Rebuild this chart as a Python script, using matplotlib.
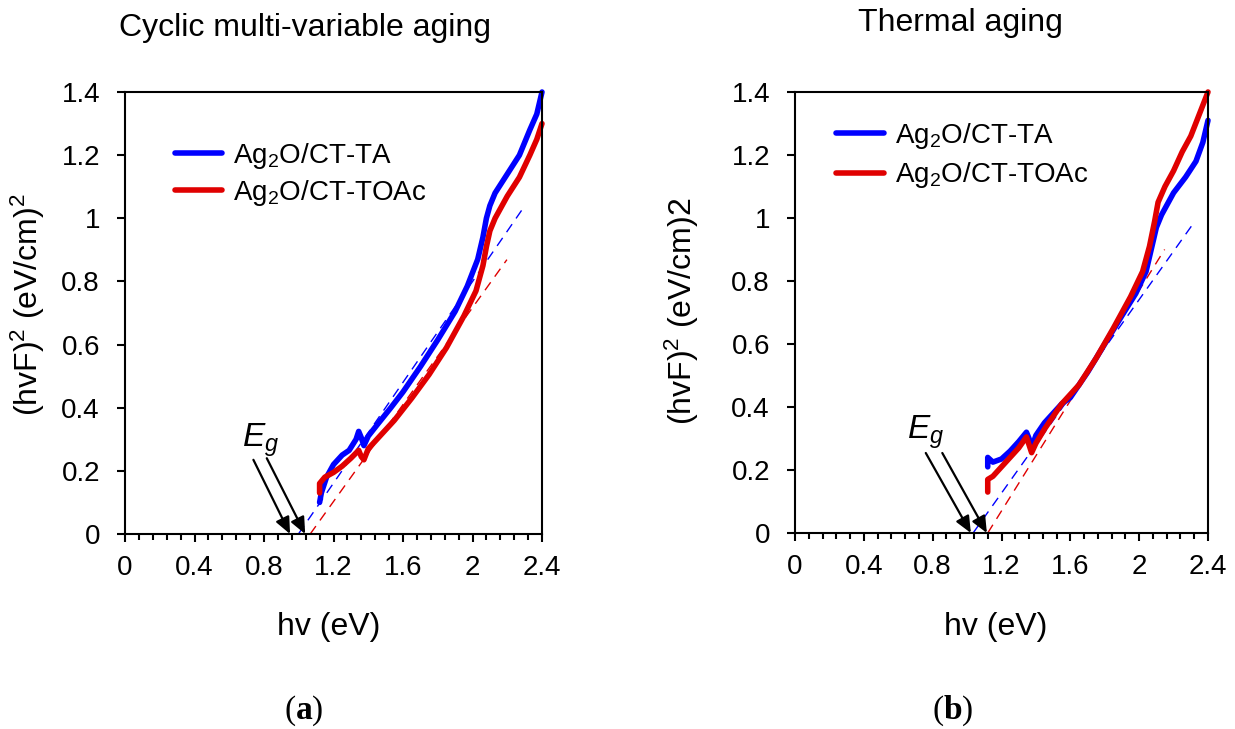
import numpy as np
import matplotlib
matplotlib.use("Agg")
import matplotlib.pyplot as plt
from matplotlib.ticker import MultipleLocator

plt.rcParams['font.family'] = ['Liberation Sans', 'DejaVu Sans']
plt.rcParams['mathtext.fontset'] = 'custom'
plt.rcParams['mathtext.rm'] = 'Liberation Sans'
plt.rcParams['mathtext.it'] = 'Liberation Sans:italic'
plt.rcParams['mathtext.bf'] = 'Liberation Serif:bold'

# ---- data --------------------------------------------------------
# (a) cyclic multi-variable aging
a_ta_x = [1.12, 1.13, 1.16, 1.20, 1.25, 1.29, 1.33, 1.345, 1.36, 1.375, 1.40, 1.45,
          1.53, 1.60, 1.70, 1.80, 1.90, 1.97, 2.03, 2.06, 2.08, 2.10, 2.13, 2.20,
          2.27, 2.33, 2.37, 2.40]
a_ta_y = [0.10, 0.13, 0.18, 0.22, 0.25, 0.265, 0.30, 0.325, 0.305, 0.28, 0.31, 0.345,
          0.40, 0.45, 0.53, 0.615, 0.705, 0.785, 0.87, 0.94, 1.00, 1.04, 1.08, 1.14,
          1.20, 1.28, 1.33, 1.40]
a_toac_x = [1.12, 1.12, 1.15, 1.20, 1.25, 1.30, 1.345, 1.36, 1.375, 1.40, 1.45, 1.55,
            1.65, 1.75, 1.85, 1.95, 2.02, 2.06, 2.08, 2.10, 2.13, 2.20, 2.27, 2.33,
            2.37, 2.40]
a_toac_y = [0.13, 0.16, 0.18, 0.195, 0.215, 0.24, 0.265, 0.245, 0.235, 0.27, 0.30, 0.36,
            0.43, 0.505, 0.59, 0.69, 0.77, 0.85, 0.91, 0.96, 1.00, 1.07, 1.13, 1.20,
            1.25, 1.30]
a_fit_ta = ([0.998, 2.285], [0.0, 1.027])
a_fit_toac = ([1.066, 2.198], [0.0, 0.869])
a_arrow_tails = [(0.739, 0.235), (0.816, 0.240)]
a_arrow_heads = [(0.95, 0.0), (1.037, 0.0)]

# (b) thermal aging
b_ta_x = [1.12, 1.12, 1.15, 1.20, 1.25, 1.30, 1.345, 1.36, 1.375, 1.40, 1.45, 1.50,
          1.55, 1.60, 1.70, 1.80, 1.90, 1.98, 2.04, 2.07, 2.10, 2.13, 2.20, 2.27,
          2.33, 2.37, 2.40]
b_ta_y = [0.21, 0.24, 0.225, 0.235, 0.26, 0.29, 0.32, 0.30, 0.27, 0.31, 0.35, 0.38,
          0.41, 0.43, 0.51, 0.60, 0.69, 0.76, 0.83, 0.90, 0.97, 1.01, 1.08, 1.13,
          1.18, 1.24, 1.31]
b_toac_x = [1.12, 1.12, 1.15, 1.20, 1.25, 1.30, 1.345, 1.36, 1.375, 1.40, 1.45, 1.55,
            1.65, 1.75, 1.85, 1.95, 2.02, 2.06, 2.09, 2.11, 2.15, 2.20, 2.25, 2.30,
            2.35, 2.40]
b_toac_y = [0.13, 0.17, 0.18, 0.21, 0.24, 0.27, 0.305, 0.28, 0.255, 0.285, 0.33, 0.41,
            0.47, 0.555, 0.65, 0.75, 0.83, 0.91, 0.99, 1.05, 1.10, 1.15, 1.21, 1.26,
            1.33, 1.40]
b_fit_ta = ([1.035, 2.323], [0.0, 0.989])
b_fit_toac = ([1.12, 2.148], [0.0, 0.90])
b_arrow_tails = [(0.76, 0.254), (0.856, 0.254)]
b_arrow_heads = [(1.022, 0.0), (1.115, 0.0)]

x_ticks = [0, 0.4, 0.8, 1.2, 1.6, 2.0, 2.4]
x_labels = ['0', '0.4', '0.8', '1.2', '1.6', '2', '2.4']
y_ticks = [0, 0.2, 0.4, 0.6, 0.8, 1.0, 1.2, 1.4]
y_labels = ['0', '0.2', '0.4', '0.6', '0.8', '1', '1.2', '1.4']

BLUE = '#0000ff'
RED = '#e00000'

W, H = 1235, 729
fig = plt.figure(figsize=(W / 100, H / 100), dpi=100)


def style_axes(ax):
    ax.set_xlim(0, 2.4)
    ax.set_ylim(0, 1.4)
    ax.set_xticks(x_ticks)
    ax.set_xticklabels(x_labels)
    ax.set_yticks(y_ticks)
    ax.set_yticklabels(y_labels)
    ax.xaxis.set_minor_locator(MultipleLocator(0.08))
    ax.tick_params(axis='both', which='major', direction='out', length=6, width=1.5,
                   labelsize=20, color='black')
    ax.tick_params(axis='x', which='major', pad=9)
    ax.tick_params(axis='y', which='major', pad=12)
    ax.tick_params(axis='x', which='minor', direction='out', length=4, width=1.5)
    for sp in ax.spines.values():
        sp.set_linewidth(1.5)
        sp.set_color('black')


def draw_panel(ax, ta_x, ta_y, toac_x, toac_y, fit_ta, fit_toac, tails, heads):
    ax.plot(fit_ta[0], fit_ta[1], color=BLUE, lw=1.0, ls=(0, (7, 5)))
    ax.plot(fit_toac[0], fit_toac[1], color=RED, lw=1.0, ls=(0, (7, 5)))
    ax.plot(ta_x, ta_y, color=BLUE, lw=4, solid_capstyle='round',
            solid_joinstyle='round', label='Ag$_2$O/CT-TA', clip_on=False)
    ax.plot(toac_x, toac_y, color=RED, lw=4, solid_capstyle='round',
            solid_joinstyle='round', label='Ag$_2$O/CT-TOAc', clip_on=False)
    for t, h in zip(tails, heads):
        ax.annotate('', xy=h, xytext=t,
                    arrowprops=dict(arrowstyle='-|>,head_length=0.5,head_width=0.22',
                                    color='black', lw=1.6,
                                    mutation_scale=20, shrinkA=0, shrinkB=0),
                    annotation_clip=False)
    style_axes(ax)


ax1 = fig.add_axes([125 / W, 1 - 534 / H, 417 / W, 442 / H])
draw_panel(ax1, a_ta_x, a_ta_y, a_toac_x, a_toac_y, a_fit_ta, a_fit_toac,
           a_arrow_tails, a_arrow_heads)
ax1.text(0.673, 0.277, '$E_g$', fontsize=24, va='baseline', ha='left')
ax1.legend(loc='upper left', bbox_to_anchor=(0.12, 0.89), frameon=False,
           fontsize=20, handlelength=1.7, handletextpad=0.4, labelspacing=0.25,
           borderpad=0, borderaxespad=0)

ax2 = fig.add_axes([795 / W, 1 - 533 / H, 413 / W, 441 / H])
draw_panel(ax2, b_ta_x, b_ta_y, b_toac_x, b_toac_y, b_fit_ta, b_fit_toac,
           b_arrow_tails, b_arrow_heads)
ax2.text(0.651, 0.30, '$E_g$', fontsize=24, va='baseline', ha='left')
ax2.legend(loc='upper left', bbox_to_anchor=(0.10, 0.935), frameon=False,
           fontsize=20, handlelength=1.7, handletextpad=0.4, labelspacing=0.35,
           borderpad=0, borderaxespad=0)

# titles, axis labels, panel letters
fig.text(305 / W, 1 - 28 / H, 'Cyclic multi-variable aging', fontsize=23,
         ha='center', va='center')
fig.text(960 / W, 1 - 23 / H, 'Thermal aging', fontsize=23, ha='center', va='center')
fig.text(28 / W, 1 - 305 / H, '(hvF)$^2$ (eV/cm)$^2$', fontsize=23, rotation=90,
         ha='center', va='center')
fig.text(682 / W, 1 - 311 / H, '(hvF)$^2$ (eV/cm)2', fontsize=23, rotation=90,
         ha='center', va='center')
fig.text(329 / W, 1 - 627 / H, 'hv (eV)', fontsize=23, ha='center', va='center')
fig.text(996 / W, 1 - 627 / H, 'hv (eV)', fontsize=23, ha='center', va='center')
fig.text(304 / W, 1 - 711 / H, r'($\mathbf{a}$)', fontsize=24, family='Liberation Serif',
         ha='center', va='center')
fig.text(953 / W, 1 - 711 / H, r'($\mathbf{b}$)', fontsize=24, family='Liberation Serif',
         ha='center', va='center')

fig.savefig('out.png', dpi=100)
